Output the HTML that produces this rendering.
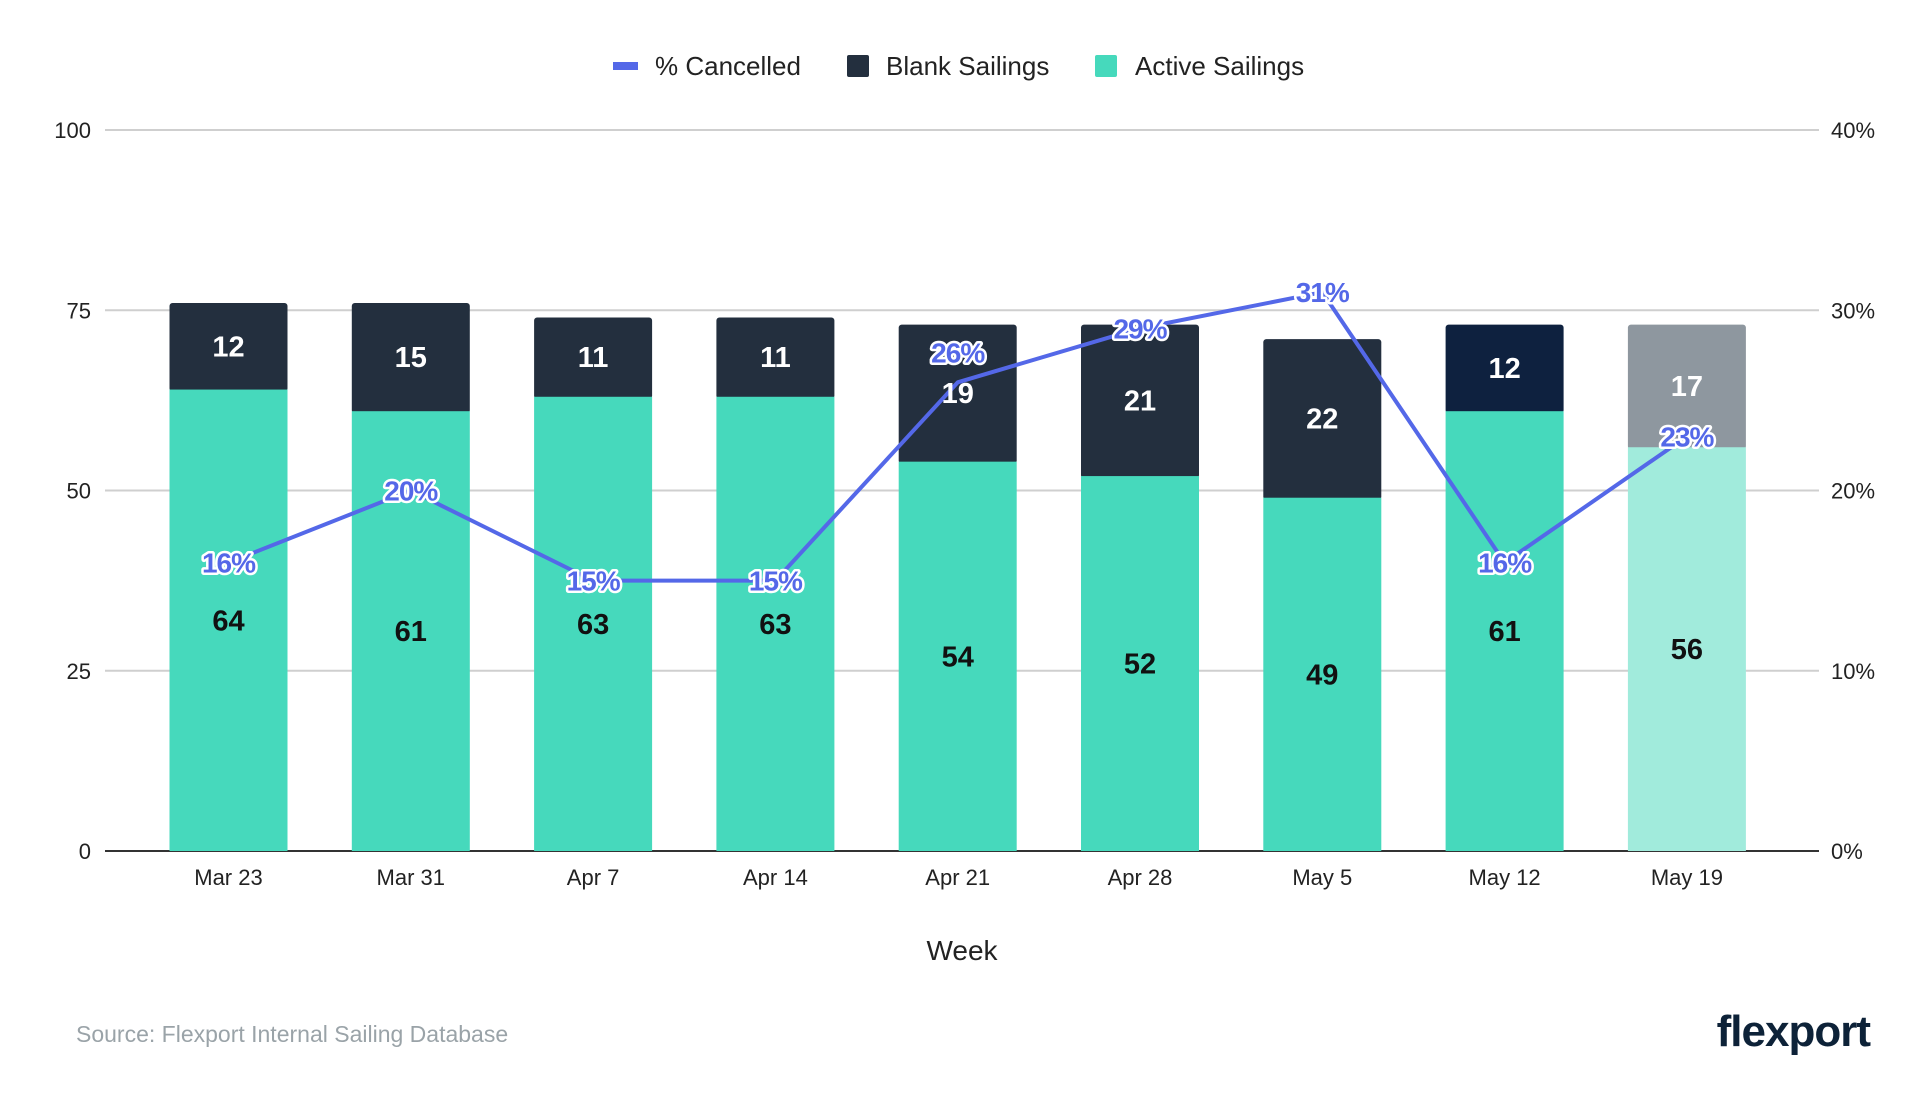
<!DOCTYPE html>
<html><head><meta charset="utf-8"><style>
html,body{margin:0;padding:0;background:#fff;width:1920px;height:1098px;overflow:hidden}
svg{display:block;font-family:"Liberation Sans",sans-serif}
</style></head><body>
<svg id="chart" width="1920" height="1098">
<g id="legend">
 <g><rect x="613" y="62" width="25" height="8" fill="#5468E8"/><text x="655" y="75" font-size="26" fill="#222">% Cancelled</text></g>
 <g><rect x="847" y="55" width="22" height="22" rx="2" fill="#232F3E"/><text x="886" y="75" font-size="26" fill="#222">Blank Sailings</text></g>
 <g><rect x="1095" y="55" width="22" height="22" rx="2" fill="#46D9BC"/><text x="1135" y="75" font-size="26" fill="#222">Active Sailings</text></g>
</g>
<g id="grid"></g>
<g id="bars"></g>
<g id="line"></g>
<g id="labels"></g>
<text x="962" y="960" font-size="28" fill="#222" text-anchor="middle">Week</text>
<text x="76" y="1042" font-size="23" fill="#9aa3a8">Source: Flexport Internal Sailing Database</text>
<text x="1870" y="1046" font-size="44" font-weight="bold" fill="#0D2238" text-anchor="end" letter-spacing="-1">flexport</text>
</svg>
<script>
const categories=["Mar 23","Mar 31","Apr 7","Apr 14","Apr 21","Apr 28","May 5","May 12","May 19"];
const activeSailings=[64,61,63,63,54,52,49,61,56];
const blankSailings=[12,15,11,11,19,21,22,12,17];
const pctCancelled=[16,20,15,15,26,29,31,16,23];
const leftTicks=[0,25,50,75,100];
const rightTicks=["0%","10%","20%","30%","40%"];
const NS="http://www.w3.org/2000/svg";
const y0=851,yTop=130,x0=105,x1=1819,c0=228.5,step=182.3,bw=118;
const yL=v=>y0-(v/100)*(y0-yTop);
const yR=p=>y0-(p/40)*(y0-yTop);
const xC=i=>c0+i*step;
function mk(tag,attrs,parent,txt){const e=document.createElementNS(NS,tag);for(const k in attrs)e.setAttribute(k,attrs[k]);if(txt!==undefined)e.textContent=txt;parent.appendChild(e);return e;}
const grid=document.getElementById('grid'),bars=document.getElementById('bars'),line=document.getElementById('line'),labels=document.getElementById('labels');
leftTicks.forEach((t,i)=>{
 const y=yL(t);
 const g=mk('line',{x1:x0,x2:x1,y1:y,y2:y,stroke:t===0?'#333':'#cfcfcf','stroke-width':2},grid);
 
 
 const l=mk('text',{x:91,y:y+8,'font-size':22,fill:'#222','text-anchor':'end'},grid,String(t));
 
 
 const r=mk('text',{x:1831,y:y+8,'font-size':22,fill:'#222'},grid,rightTicks[i]);
 
 
});
categories.forEach((c,i)=>{
 const x=xC(i)-bw/2,a=activeSailings[i],b=blankSailings[i];
 const last=i===categories.length-1;
 const blankCol=last?'#8E979F':(i===7?'#0E213F':'#232F3E');
 const activeCol=last?'#A1EBDC':'#46D9BC';
 const br=mk('rect',{x:x,y:yL(a+b),width:bw,height:yL(a)-yL(a+b)+2,rx:3,fill:blankCol},bars);
 
 
 const ar=mk('rect',{x:x,y:yL(a),width:bw,height:y0-yL(a),fill:activeCol},bars);
 
 
 const xl=mk('text',{x:xC(i),y:885,'font-size':22,fill:'#222','text-anchor':'middle'},grid,c);
 
 
 const bl=mk('text',{x:xC(i),y:yL(a+b/2)+10,'font-size':29,'font-weight':'bold',fill:'#fff','text-anchor':'middle'},labels,String(b));
 
 
 const al=mk('text',{x:xC(i),y:yL(a/2)+10,'font-size':29,'font-weight':'bold',fill:'#111','text-anchor':'middle'},labels,String(a));
 
 
});
const pts=pctCancelled.map((p,i)=>xC(i)+','+yR(p)).join(' ');
const pl=mk('polyline',{points:pts,fill:'none',stroke:'#5468E8','stroke-width':4,'stroke-linejoin':'round'},line);


pctCancelled.forEach((p,i)=>{
 const off=(i===4)?-30:0;
 const t=mk('text',{x:xC(i),y:yR(p)+10+off,'font-size':28,'font-weight':'bold',fill:'#5468E8',stroke:'#fff','stroke-width':5,'paint-order':'stroke','stroke-linejoin':'round','text-anchor':'middle','letter-spacing':'-1'},labels,p+'%');
 
 
});
</script>
</body></html>
